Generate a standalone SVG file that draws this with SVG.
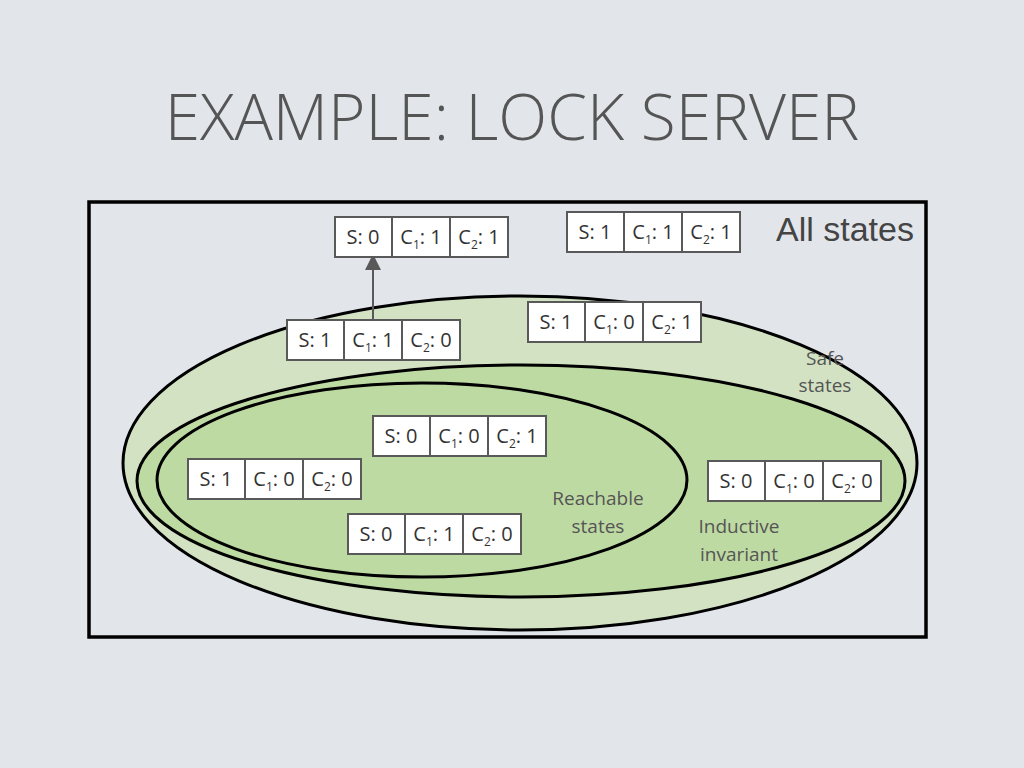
<svg xmlns="http://www.w3.org/2000/svg" width="1024" height="768" viewBox="0 0 1024 768">
<defs>
<style>
.cell{fill:#fff;stroke:#595959;stroke-width:2}
.t{font-family:"Open Sans","Liberation Sans",sans-serif;font-size:20px;fill:#333;text-anchor:middle}
.lab{font-family:"Open Sans","Liberation Sans",sans-serif;font-size:19px;fill:#555;text-anchor:middle}
.ell{stroke:#000;stroke-width:3}
</style>
<marker id="ar" markerWidth="8" markerHeight="8" refX="4" refY="4" orient="auto"><path d="M0,0 L8,4 L0,8 z" fill="#595959"/></marker>
</defs>
<rect width="1024" height="768" fill="#e2e6ea"/>
<text x="512" y="140" font-family="'Open Sans','Liberation Sans',sans-serif" font-size="64" fill="#555" text-anchor="middle" font-weight="300">EXAMPLE: LOCK SERVER</text>
<rect x="89" y="202" width="837" height="435" fill="none" stroke="#000" stroke-width="3.5"/>
<text x="845" y="241" font-family="'Liberation Sans',sans-serif" font-size="34" fill="#444" text-anchor="middle">All states</text>
<g id="safe"><ellipse class="ell" cx="520" cy="463" rx="397" ry="167" fill="#d3e2c3"/></g>
<g id="inductive"><ellipse class="ell" cx="521" cy="481" rx="384" ry="116" fill="#bedaa3"/></g>
<g id="reachable"><ellipse class="ell" cx="422" cy="480" rx="265" ry="97" fill="#bedaa3"/></g>
<text class="lab" x="825" y="365">Safe</text><text class="lab" x="825" y="392">states</text>
<text class="lab" x="598" y="505">Reachable</text><text class="lab" x="598" y="533">states</text>
<text class="lab" x="739" y="533">Inductive</text><text class="lab" x="739" y="561">invariant</text>
<g id="connectors"><line x1="373" y1="320" x2="373" y2="262" stroke="#595959" stroke-width="2" marker-end="url(#ar)"/></g>
<g id="n1" transform="translate(335,217)"><rect class="cell" width="57" height="40"/><rect class="cell" x="57" width="58" height="40"/><rect class="cell" x="115" width="58" height="40"/><text class="t" x="28" y="27">S: 0</text><text class="t" x="86" y="27">C<tspan font-size="12" dy="5">1</tspan><tspan dy="-5">: 1</tspan></text><text class="t" x="144" y="27">C<tspan font-size="12" dy="5">2</tspan><tspan dy="-5">: 1</tspan></text></g>
<g id="n2" transform="translate(567,212)"><rect class="cell" width="57" height="40"/><rect class="cell" x="57" width="58" height="40"/><rect class="cell" x="115" width="58" height="40"/><text class="t" x="28" y="27">S: 1</text><text class="t" x="86" y="27">C<tspan font-size="12" dy="5">1</tspan><tspan dy="-5">: 1</tspan></text><text class="t" x="144" y="27">C<tspan font-size="12" dy="5">2</tspan><tspan dy="-5">: 1</tspan></text></g>
<g id="n3" transform="translate(287,320)"><rect class="cell" width="57" height="40"/><rect class="cell" x="57" width="58" height="40"/><rect class="cell" x="115" width="58" height="40"/><text class="t" x="28" y="27">S: 1</text><text class="t" x="86" y="27">C<tspan font-size="12" dy="5">1</tspan><tspan dy="-5">: 1</tspan></text><text class="t" x="144" y="27">C<tspan font-size="12" dy="5">2</tspan><tspan dy="-5">: 0</tspan></text></g>
<g id="n4" transform="translate(528,302)"><rect class="cell" width="57" height="40"/><rect class="cell" x="57" width="58" height="40"/><rect class="cell" x="115" width="58" height="40"/><text class="t" x="28" y="27">S: 1</text><text class="t" x="86" y="27">C<tspan font-size="12" dy="5">1</tspan><tspan dy="-5">: 0</tspan></text><text class="t" x="144" y="27">C<tspan font-size="12" dy="5">2</tspan><tspan dy="-5">: 1</tspan></text></g>
<g id="n5" transform="translate(373,416)"><rect class="cell" width="57" height="40"/><rect class="cell" x="57" width="58" height="40"/><rect class="cell" x="115" width="58" height="40"/><text class="t" x="28" y="27">S: 0</text><text class="t" x="86" y="27">C<tspan font-size="12" dy="5">1</tspan><tspan dy="-5">: 0</tspan></text><text class="t" x="144" y="27">C<tspan font-size="12" dy="5">2</tspan><tspan dy="-5">: 1</tspan></text></g>
<g id="n6" transform="translate(188,459)"><rect class="cell" width="57" height="40"/><rect class="cell" x="57" width="58" height="40"/><rect class="cell" x="115" width="58" height="40"/><text class="t" x="28" y="27">S: 1</text><text class="t" x="86" y="27">C<tspan font-size="12" dy="5">1</tspan><tspan dy="-5">: 0</tspan></text><text class="t" x="144" y="27">C<tspan font-size="12" dy="5">2</tspan><tspan dy="-5">: 0</tspan></text></g>
<g id="n7" transform="translate(348,514)"><rect class="cell" width="57" height="40"/><rect class="cell" x="57" width="58" height="40"/><rect class="cell" x="115" width="58" height="40"/><text class="t" x="28" y="27">S: 0</text><text class="t" x="86" y="27">C<tspan font-size="12" dy="5">1</tspan><tspan dy="-5">: 1</tspan></text><text class="t" x="144" y="27">C<tspan font-size="12" dy="5">2</tspan><tspan dy="-5">: 0</tspan></text></g>
<g id="n8" transform="translate(708,461)"><rect class="cell" width="57" height="40"/><rect class="cell" x="57" width="58" height="40"/><rect class="cell" x="115" width="58" height="40"/><text class="t" x="28" y="27">S: 0</text><text class="t" x="86" y="27">C<tspan font-size="12" dy="5">1</tspan><tspan dy="-5">: 0</tspan></text><text class="t" x="144" y="27">C<tspan font-size="12" dy="5">2</tspan><tspan dy="-5">: 0</tspan></text></g>
</svg>
